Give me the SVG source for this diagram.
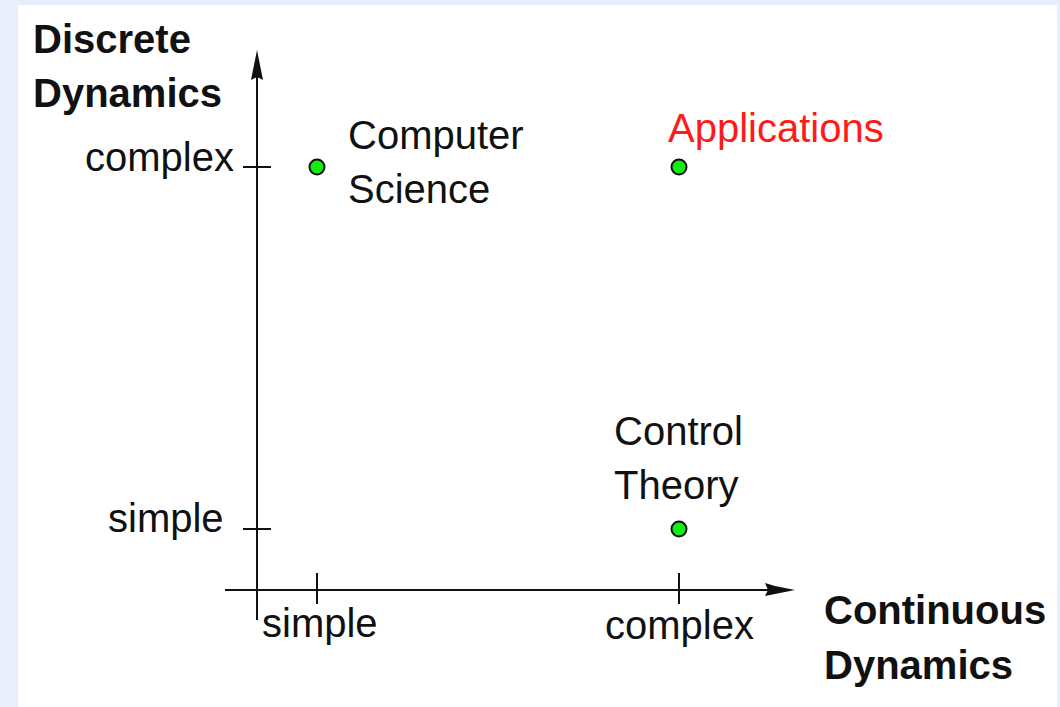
<svg xmlns="http://www.w3.org/2000/svg" width="1060" height="707" viewBox="0 0 1060 707">
<style>
.reg{font-family:"Liberation Sans",Arial,sans-serif;font-size:40px;fill:#111}
.bold{font-family:"Liberation Sans",Arial,sans-serif;font-size:40px;font-weight:bold;fill:#111}
.red{fill:#ff1a1a}
.ax{stroke:#111;stroke-width:2;fill:none}
.dot{fill:#11ee11;stroke:#111;stroke-width:2}
</style>
<rect x="0" y="0" width="1060" height="707" fill="#e8eefc"/>
<rect x="18" y="5" width="1039" height="702" fill="#ffffff"/>
<g id="axes">
<line class="ax" x1="257" y1="60" x2="257" y2="620"/>
<line class="ax" x1="225" y1="590" x2="785" y2="590"/>
<polygon points="257,50 261,70 263,80 257,77 251,80 253,70" fill="#111"/>
<polygon points="795,590 775,586 765,583 768,590 765,596 775,594" fill="#111"/>
<line class="ax" x1="243" y1="167" x2="271" y2="167"/>
<line class="ax" x1="243" y1="529" x2="271" y2="529"/>
<line class="ax" x1="317" y1="573" x2="317" y2="604"/>
<line class="ax" x1="679" y1="573" x2="679" y2="604"/>
</g>
<g id="labels">
<text class="bold" x="33" y="53">Discrete</text>
<text class="bold" x="33" y="107">Dynamics</text>
<text class="reg" x="85" y="171">complex</text>
<text class="reg" x="108" y="532">simple</text>
<text class="reg" x="262" y="637">simple</text>
<text class="reg" x="605" y="639">complex</text>
<text class="bold" x="824" y="624">Continuous</text>
<text class="bold" x="824" y="679">Dynamics</text>
</g>
<g id="node-cs">
<circle class="dot" cx="317" cy="167" r="7.5"/>
<text class="reg" x="348" y="149">Computer</text>
<text class="reg" x="348" y="203">Science</text>
</g>
<g id="node-apps">
<circle class="dot" cx="679" cy="167" r="7.5"/>
<text class="reg red" x="668" y="142">Applications</text>
</g>
<g id="node-ct">
<circle class="dot" cx="679" cy="529" r="7.5"/>
<text class="reg" x="614" y="445">Control</text>
<text class="reg" x="614" y="499">Theory</text>
</g>
</svg>
